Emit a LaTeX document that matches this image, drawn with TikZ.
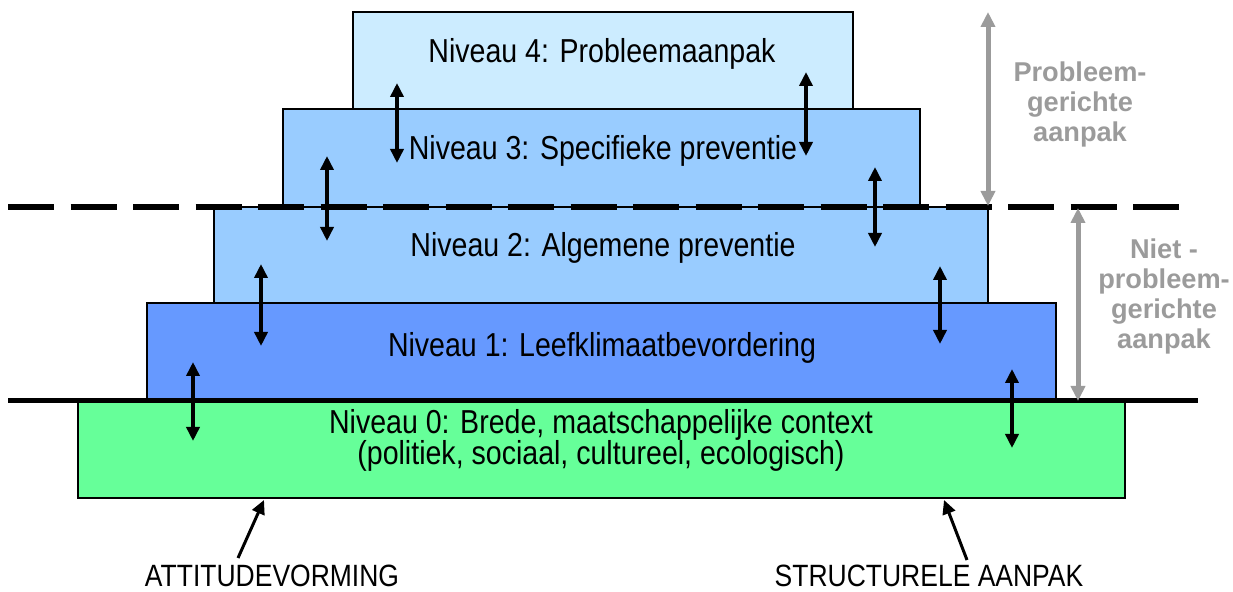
\documentclass[tikz,border=0pt]{standalone}
\usepackage{fontspec}
\setmainfont{Liberation Sans}[FakeStretch=0.86]
\newfontfamily\sidefont{Liberation Sans}
\usetikzlibrary{arrows.meta}
\definecolor{lvlfour}{RGB}{204,236,255}
\definecolor{lvlthree}{RGB}{153,204,255}
\definecolor{lvltwo}{RGB}{153,204,255}
\definecolor{lvlone}{RGB}{102,153,255}
\definecolor{lvlzero}{RGB}{102,255,153}
\definecolor{sidegray}{RGB}{155,155,155}

\begin{document}
\begin{tikzpicture}[x=0.5pt,y=-0.5pt,
		level/.style={draw,line width=0.75pt},
		lvltext/.style={inner sep=0pt,font=\fontsize{16.6}{15.5}\selectfont},
		bottext/.style={inner sep=0pt,font=\fontsize{15.4}{15}\selectfont},
		sidetext/.style={inner sep=0pt,align=center,text=sidegray,font=\sidefont\bfseries\fontsize{13.6}{15}\selectfont},
		dblarrow/.style={line width=1.75pt,{Triangle[length=7pt,width=6.5pt]}-{Triangle[length=7pt,width=6.5pt]}},
		grayarrow/.style={sidegray,line width=2.5pt,{Triangle[length=7.5pt,width=7pt]}-{Triangle[length=7.5pt,width=7pt]}},
		ptrarrow/.style={line width=1.5pt,-{Triangle[length=7pt,width=6.5pt]}}
		]
		\useasboundingbox (0,0) rectangle (1233,592);
		%Draw levels
		\draw[level,fill=lvlzero] (78,401) rectangle (1125,498);
		\draw[level,fill=lvlone] (147,303) rectangle (1056,401);
		\draw[level,fill=lvltwo] (214,207) rectangle (988,303);
		\draw[level,fill=lvlthree] (283,109) rectangle (920,207);
		\draw[level,fill=lvlfour] (353,12) rectangle (853,109);
		\path (602,54) node[lvltext] (niv4) {Niveau 4: Probleemaanpak}
		(603,151) node[lvltext] (niv3) {Niveau 3: Specifieke preventie}
		(603,248) node[lvltext] (niv2) {Niveau 2: Algemene preventie}
		(602,348) node[lvltext] (niv1) {Niveau 1: Leefklimaatbevordering}
		(601,440) node[lvltext,align=center] (niv0) {Niveau 0: Brede, maatschappelijke context\\(politiek, sociaal, cultureel, ecologisch)};
		%Borders between the two approaches
		\draw[line width=3pt,dash pattern=on 23pt off 8.25pt] (8,207) -- (1184,207);
		\draw[line width=2.5pt] (8,401) -- (1198,401);
		%Arrows between levels
		\path (397,83) coordinate (a4l) +(0,80) coordinate (b4l)
		(806,72) coordinate (a4r) +(0,84) coordinate (b4r)
		(327,156) coordinate (a3l) +(0,85) coordinate (b3l)
		(875,167) coordinate (a3r) +(0,80) coordinate (b3r)
		(261,264) coordinate (a2l) +(0,82) coordinate (b2l)
		(940,266) coordinate (a2r) +(0,78) coordinate (b2r)
		(193,362) coordinate (a1l) +(0,79) coordinate (b1l)
		(1012,369) coordinate (a1r) +(0,79) coordinate (b1r);
		\draw[dblarrow] (a4l) -- (b4l);
		\draw[dblarrow] (a4r) -- (b4r);
		\draw[dblarrow] (a3l) -- (b3l);
		\draw[dblarrow] (a3r) -- (b3r);
		\draw[dblarrow] (a2l) -- (b2l);
		\draw[dblarrow] (a2r) -- (b2r);
		\draw[dblarrow] (a1l) -- (b1l);
		\draw[dblarrow] (a1r) -- (b1r);
		%Side labels
		\path (988,12) coordinate (probtop) (988,206) coordinate (probbot)
		(1078,208) coordinate (niettop) (1078,401) coordinate (nietbot);
		\draw[grayarrow] (probtop) -- (probbot);
		\draw[grayarrow] (niettop) -- (nietbot);
		\path (1080,104) node[sidetext] (prob) {Probleem-\\gerichte\\aanpak}
		(1164,296) node[sidetext] (niet) {Niet -\\probleem-\\gerichte\\aanpak};
		%Bottom labels
		\path (272,576) node[bottext] (attitude) {ATTITUDEVORMING}
		(929,576) node[bottext] (structureel) {STRUCTURELE AANPAK};
		\path (238,558) coordinate (attfoot) (264,500) coordinate (atttip)
		(967,560) coordinate (strfoot) (944,500) coordinate (strtip);
		\draw[ptrarrow] (attfoot) -- (atttip);
		\draw[ptrarrow] (strfoot) -- (strtip);
	\end{tikzpicture}
\end{document}
